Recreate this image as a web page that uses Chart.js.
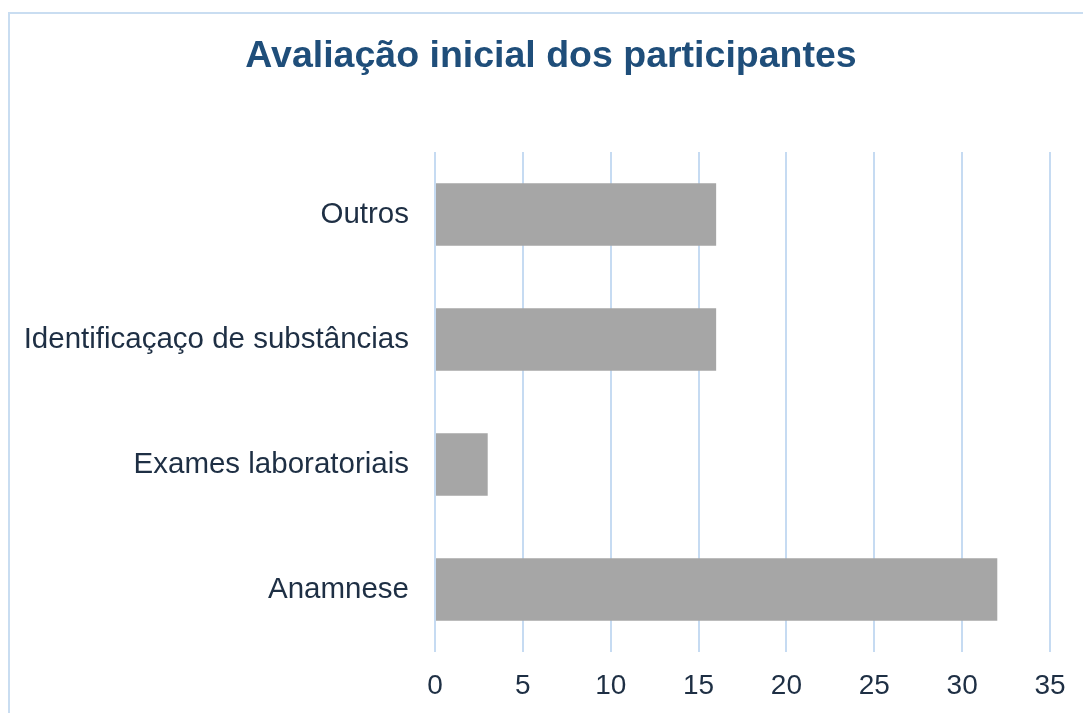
<!DOCTYPE html>
<html>
<head>
<meta charset="utf-8">
<script src="https://cdn.jsdelivr.net/npm/chart.js@4"></script>
<style>
  html, body { margin: 0; padding: 0; background: #fff; overflow: hidden; }
  #frame {
    position: absolute; left: 8px; top: 12px;
    width: 1200px; height: 900px;
    border: 2px solid #c9ddf1;
  }
  #wrap { position: absolute; left: 0; top: 0; width: 1083px; height: 713px; }
</style>
</head>
<body>
<div id="frame"></div>
<div id="wrap"><canvas id="chart" width="1083" height="713"></canvas></div>
<script>
// Categories, top to bottom as shown
const categories = ["Outros", "Identificaçaço de substâncias", "Exames laboratoriais", "Anamnese"];
const values = [16, 16, 3, 32];
const xTicks = [0, 5, 10, 15, 20, 25, 30, 35];

const labelColor = "#1e2f44";
const gridColor = "#c6dbf2";

// let the long category label use the space left of the padding (title stays centred like the original)
const widenLabelArea = {
    id: "widenLabelArea",
    afterLayout: (chart) => { chart.scales.y.left = 0; }
};

new Chart(document.getElementById("chart"), {
    type: "bar",
    data: {
        labels: categories,
        datasets: [
            {
                label: "Participantes",
                data: values,
                backgroundColor: "#a6a6a6",
                borderWidth: 0,
                barPercentage: 0.5,
                categoryPercentage: 1
            }
        ]
    },
    plugins: [widenLabelArea],
    options: {
        indexAxis: "y",
        responsive: false,
        animation: false,
        layout: { padding: { left: 52, right: 33, top: 0, bottom: 0 } },
        plugins: {
            legend: { display: false },
            tooltip: { enabled: false },
            title: {
                display: true,
                text: "Avaliação inicial dos participantes",
                color: "#1f4e7a",
                font: { family: "Liberation Sans, Arial, sans-serif", size: 37.5, weight: "bold" },
                padding: { top: 34, bottom: 73 }
            }
        },
        scales: {
            x: {
                min: 0,
                max: 35,
                afterBuildTicks: (scale) => { scale.ticks = xTicks.map(v => ({ value: v })); },
                afterFit: (scale) => { scale.height = 61; },
                grid: { color: gridColor, lineWidth: 2, drawTicks: false },
                border: { display: false },
                ticks: {
                    color: labelColor,
                    padding: 17,
                    font: { family: "Liberation Sans, Arial, sans-serif", size: 28 }
                }
            },
            y: {
                afterFit: (scale) => { scale.width = 383; },
                grid: { display: false, drawTicks: false },
                border: { display: false },
                ticks: {
                    color: labelColor,
                    padding: 26,
                    font: { family: "Liberation Sans, Arial, sans-serif", size: 29.5 }
                }
            }
        }
    }
});
</script>
</body>
</html>
